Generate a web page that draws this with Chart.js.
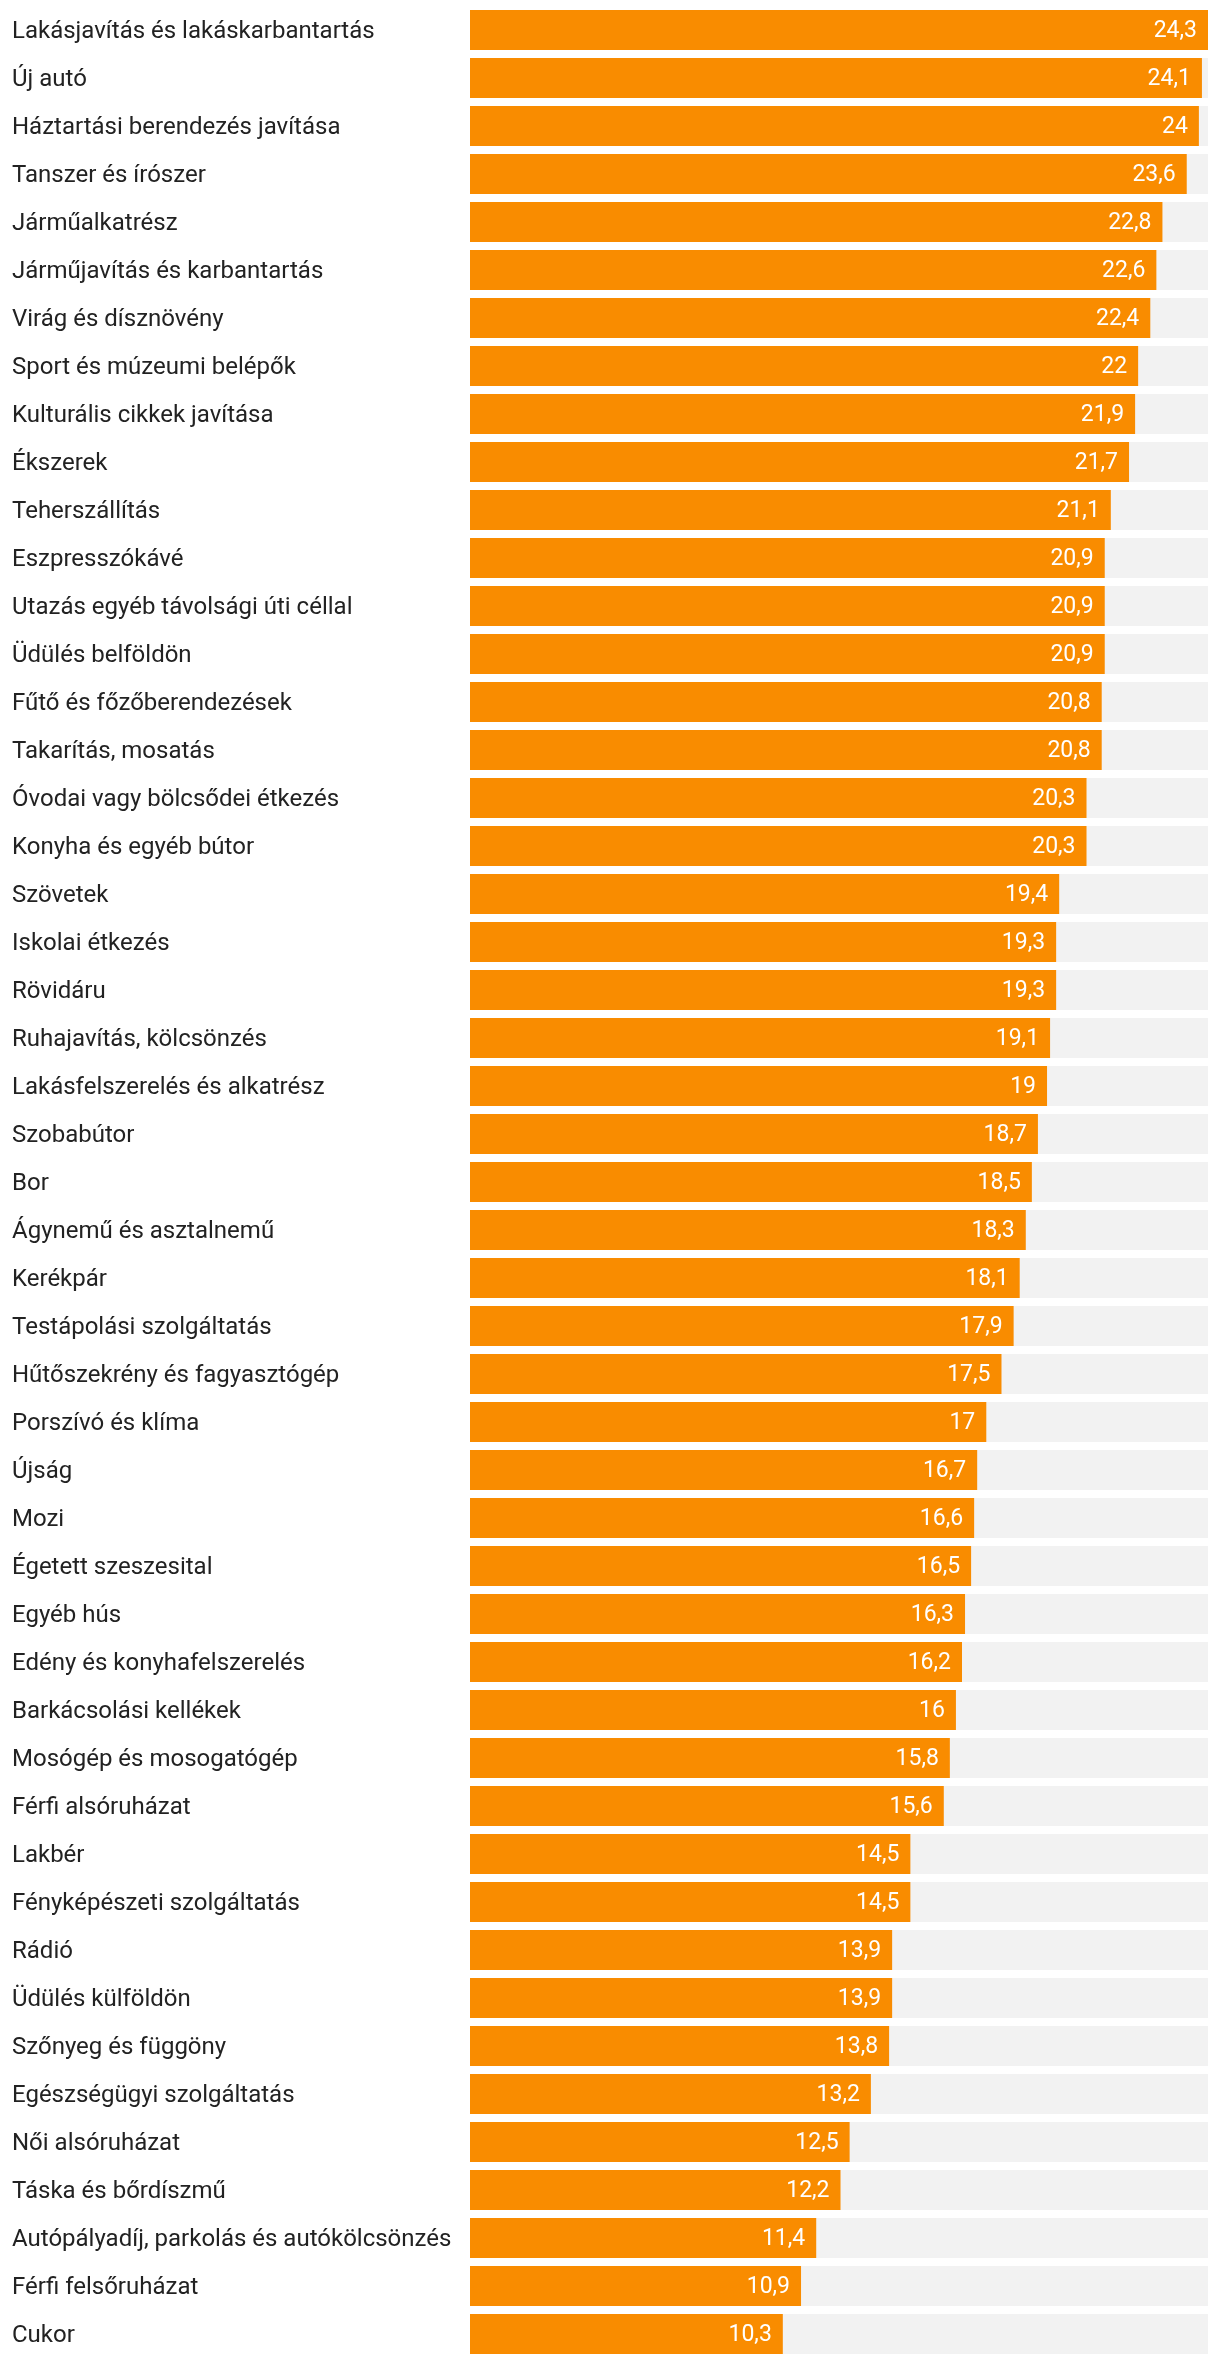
<!DOCTYPE html>
<html>
<head>
<meta charset="utf-8">
<script src="https://cdn.jsdelivr.net/npm/chart.js@4/dist/chart.umd.min.js"></script>
<style>
html,body{margin:0;padding:0;background:#fff;}
#wrap{position:relative;width:1220px;height:2364px;}
</style>
</head>
<body>
<div id="wrap"><canvas id="c"></canvas></div>
<script>
const categories = [
  "Lakásjavítás és lakáskarbantartás","Új autó","Háztartási berendezés javítása","Tanszer és írószer",
  "Járműalkatrész","Járműjavítás és karbantartás","Virág és dísznövény","Sport és múzeumi belépők",
  "Kulturális cikkek javítása","Ékszerek","Teherszállítás","Eszpresszókávé",
  "Utazás egyéb távolsági úti céllal","Üdülés belföldön","Fűtő és főzőberendezések","Takarítás, mosatás",
  "Óvodai vagy bölcsődei étkezés","Konyha és egyéb bútor","Szövetek","Iskolai étkezés","Rövidáru",
  "Ruhajavítás, kölcsönzés","Lakásfelszerelés és alkatrész","Szobabútor","Bor","Ágynemű és asztalnemű",
  "Kerékpár","Testápolási szolgáltatás","Hűtőszekrény és fagyasztógép","Porszívó és klíma","Újság","Mozi",
  "Égetett szeszesital","Egyéb hús","Edény és konyhafelszerelés","Barkácsolási kellékek",
  "Mosógép és mosogatógép","Férfi alsóruházat","Lakbér","Fényképészeti szolgáltatás","Rádió",
  "Üdülés külföldön","Szőnyeg és függöny","Egészségügyi szolgáltatás","Női alsóruházat",
  "Táska és bőrdíszmű","Autópályadíj, parkolás és autókölcsönzés","Férfi felsőruházat","Cukor"
];
const values = [
  24.3,24.1,24,23.6,22.8,22.6,22.4,22,21.9,21.7,21.1,20.9,20.9,20.9,20.8,20.8,20.3,20.3,19.4,19.3,19.3,
  19.1,19,18.7,18.5,18.3,18.1,17.9,17.5,17,16.7,16.6,16.5,16.3,16.2,16,15.8,15.6,14.5,14.5,13.9,13.9,
  13.8,13.2,12.5,12.2,11.4,10.9,10.3
];
const maxValue = Math.max(...values);
const backgroundValues = categories.map(() => maxValue);

const ORANGE = '#f98c00';
const TRACK = '#f2f2f2';
const FONT = 'Roboto, "Noto Sans", sans-serif';

const valueLabels = {
  id: 'valueLabels',
  afterDatasetsDraw(chart) {
    const ctx = chart.ctx;
    const meta = chart.getDatasetMeta(1);
    ctx.save();
    ctx.fillStyle = '#ffffff';
    ctx.font = '23px ' + FONT;
    ctx.textAlign = 'right';
    ctx.textBaseline = 'middle';
    meta.data.forEach((bar, i) => {
      const txt = String(values[i]).replace('.', ',');
      ctx.fillText(txt, bar.x - 11, bar.y + 1);
    });
    ctx.restore();
  }
};

new Chart(document.getElementById('c'), {
  type: 'bar',
  data: {
    labels: categories,
    datasets: [
      { data: backgroundValues, backgroundColor: TRACK, grouped: false, order: 2, borderWidth: 0 },
      { data: values, backgroundColor: ORANGE, grouped: false, order: 1, borderWidth: 0 }
    ]
  },
  options: {
    indexAxis: 'y',
    responsive: true,
    maintainAspectRatio: false,
    animation: false,
    events: [],
    datasets: { bar: { categoryPercentage: 1, barPercentage: 40/48 } },
    layout: { padding: { left: 12, right: 12, top: 6, bottom: 6 } },
    plugins: { legend: { display: false }, tooltip: { enabled: false } },
    scales: {
      x: { display: false, min: 0, max: maxValue },
      y: {
        grid: { display: false, drawTicks: false },
        border: { display: false },
        ticks: { crossAlign: 'far', color: '#222222', font: { family: FONT, size: 24 }, padding: 0, autoSkip: false, labelOffset: 1.5 },
        afterFit(scale) { scale.width = 458; scale.paddingTop = 0; scale.paddingBottom = 0; }
      }
    }
  },
  plugins: [valueLabels]
});
</script>
</body>
</html>
